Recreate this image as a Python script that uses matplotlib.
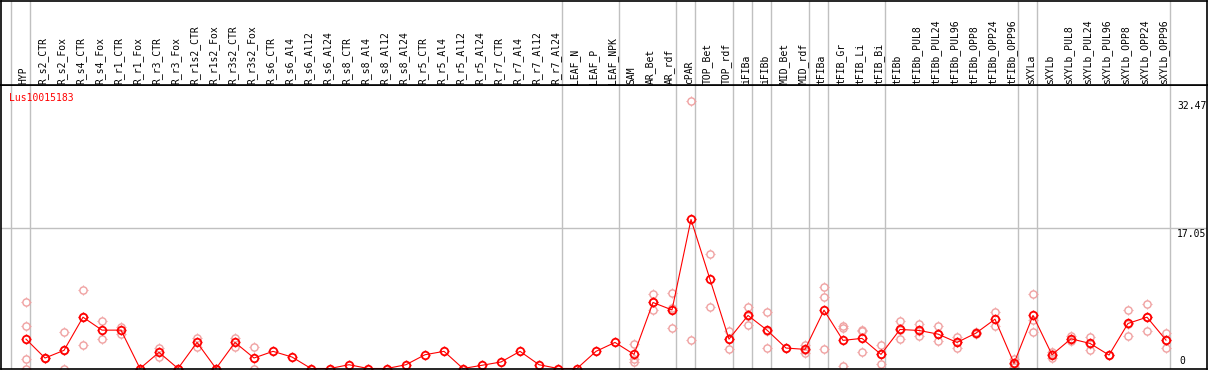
import matplotlib
matplotlib.use("Agg")
import matplotlib.pyplot as plt
from matplotlib.path import Path
from matplotlib.transforms import blended_transform_factory

plt.rcParams['font.family'] = ['DejaVu Sans Mono']

samples = ["HYP", "R_s2_CTR", "R_s2_Fox", "R_s4_CTR", "R_s4_Fox", "R_r1_CTR", "R_r1_Fox",
           "R_r3_CTR", "R_r3_Fox", "R_r1s2_CTR", "R_r1s2_Fox", "R_r3s2_CTR", "R_r3s2_Fox",
           "R_s6_CTR", "R_s6_Al4", "R_s6_Al12", "R_s6_Al24", "R_s8_CTR", "R_s8_Al4",
           "R_s8_Al12", "R_s8_Al24", "R_r5_CTR", "R_r5_Al4", "R_r5_Al12", "R_r5_Al24",
           "R_r7_CTR", "R_r7_Al4", "R_r7_Al12", "R_r7_Al24", "LEAF_N", "LEAF_P", "LEAF_NPK",
           "SAM", "AR_Bet", "AR_rdf", "cPAR", "TOP_Bet", "TOP_rdf", "iFIBa", "iFIBb",
           "MID_Bet", "MID_rdf", "tFIBa", "tFIB_Gr", "tFIB_Li", "tFIB_Bi", "tFIBb",
           "tFIBb_PUL8", "tFIBb_PUL24", "tFIBb_PUL96", "tFIBb_OPP8", "tFIBb_OPP24",
           "tFIBb_OPP96", "sXYLa", "sXYLb", "sXYLb_PUL8", "sXYLb_PUL24", "sXYLb_PUL96",
           "sXYLb_OPP8", "sXYLb_OPP24", "sXYLb_OPP96"]

# mean expression per sample
means = [3.56, 1.27, 2.2, 6.22, 4.65, 4.65, 0, 1.96, 0, 3.16, 0, 3.16, 1.27,
         2.08, 1.39, 0, 0, 0.46, 0, 0, 0.46, 1.67, 2.08, 0, 0.39, 0.79, 2.08, 0.46, 0,
         0, 2.08, 3.16, 1.71, 8.0, 7.1, 18.06, 10.8, 3.56, 6.43, 4.65, 2.48, 2.32,
         7.07, 3.41, 3.65, 1.71, 4.73, 4.61, 4.17, 3.16, 4.29, 5.98, 0.63, 6.43, 1.67,
         3.6, 3.04, 1.63, 5.46, 6.22, 3.44]

# replicate values (only those visible)
replicates = [[8.0, 5.1, 1.2, 0.0], [1.3, 1.25], [4.4, 2.2, 0.0], [9.5, 6.3, 2.9],
              [5.7, 3.6], [5.0, 4.2], [0, 0], [2.5, 1.4], [0, 0], [3.7, 2.6], [0, 0],
              [3.7, 2.6], [2.6, 0.0], [], [], [], [], [], [], [], [], [], [], [], [],
              [], [], [], [], [], [], [], [3.0, 1.2, 0.8], [9.0, 8.0, 7.1],
              [9.1, 7.3, 4.9], [32.47, 3.4], [13.9, 7.5], [4.5, 3.6, 2.4],
              [7.5, 6.4, 5.3], [6.8, 4.6, 2.5], [2.5], [2.8, 2.3, 1.9], [9.9, 8.7, 2.4],
              [5.2, 4.9, 0.3], [4.7, 4.5, 2.0], [2.8, 1.7, 0.6], [5.7, 4.7, 3.6],
              [5.4, 4.6, 3.9], [5.1, 4.2, 3.3], [3.8, 3.2, 2.5], [4.4, 4.2],
              [6.8, 5.1], [1.2, 0.5, 0.2], [9.0, 5.9, 4.4], [2.0, 1.7, 1.3],
              [3.9, 3.6, 3.3], [3.8, 3.0, 2.3], [1.6], [7.1, 5.4, 3.9], [7.8, 6.2, 4.6],
              [4.3, 3.4, 2.5]]

# last sample index of each tissue group (separators)
group_ends = [-1, 0, 28, 31, 34, 35, 37, 38, 39, 41, 42, 45, 52, 53, 60]
y_marks = [32.47, 17.05]
gene = "Lus10015183"

W, H = 1209, 370
fig = plt.figure(figsize=(W / 100, H / 100), dpi=100)

# small ticks around the circle markers
ticks = Path.make_compound_path(
    Path([(0, 0.7), (0, 1.0)]), Path([(0, -0.7), (0, -1.0)]),
    Path([(0.7, 0), (1.0, 0)]), Path([(-0.7, 0), (-1.0, 0)]))

left, right = 1, 1207
xmin = -25 / 19
xmax = xmin + (right - left) / 19
scale = 8.28  # pixels per unit
ax = fig.add_axes([left / W, 1 / H, (right - left) / W, 284 / H])
ax.set_xlim(xmin, xmax)
ax.set_ylim(-0.5 / scale, (369.5 - 85) / scale)

hd = fig.add_axes([left / W, 285 / H, (right - left) / W, 84 / H], sharex=ax)
hd.set_ylim(0, 84)

for a in (ax, hd):
    a.set_xticks([])
    a.set_yticks([])
    for s in a.spines.values():
        s.set_color('black')
        s.set_linewidth(1.2)
    for g in group_ends:
        a.axvline(g + 0.22, color='#c0c0c0', lw=1)
ax.axhline(17.05, color='#c0c0c0', lw=1)

for i, name in enumerate(samples):
    hd.text(i - 0.12, 1.5, name, rotation=90, ha='center', va='bottom', fontsize=7)

for i, reps in enumerate(replicates):
    if reps:
        xs = [i] * len(reps)
        ax.plot(xs, reps, linestyle='none', marker='o', markersize=5.2,
                mfc='none', mec='#f0a0a0', mew=1.0)
        ax.plot(xs, reps, linestyle='none', marker=ticks, markersize=7.5,
                mec='#f0a0a0', mew=0.8)

xs = range(len(means))
ax.plot(xs, means, color='red', lw=0.8, marker='o', markersize=5.4,
        mfc='none', mec='red', mew=1.3)
ax.plot(xs, means, linestyle='none', marker=ticks, markersize=7.8, mec='red', mew=1.0)

tr = blended_transform_factory(ax.transAxes, ax.transData)
lx = (1177 - left) / (right - left)
for v in y_marks:
    ax.text(lx, v - 0.1, f"{v:.2f}", transform=tr, ha='left', va='top', fontsize=7)
ax.text(lx + 0.002, 0.35, "0", transform=tr, ha='left', va='bottom', fontsize=7)

fig.text(9 / W, 1 - 93 / H, gene, color='red', ha='left', va='top', fontsize=7)

fig.savefig("out.png", dpi=100)
